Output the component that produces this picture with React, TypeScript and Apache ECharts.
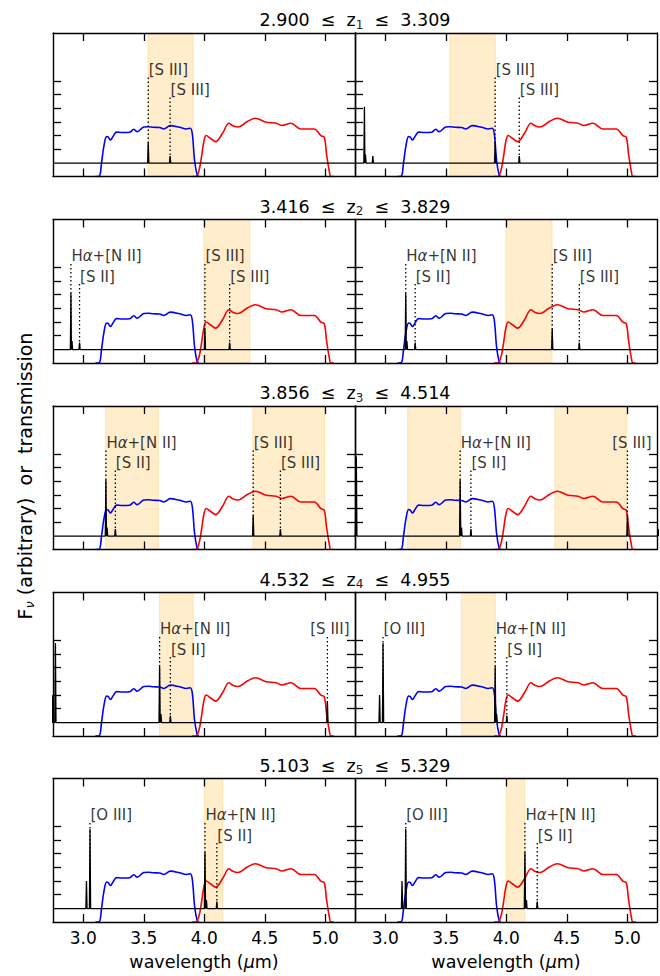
import React, { useEffect, useRef } from "react";
import * as echarts from "echarts";

// ---------- data ----------
const X_MIN = 2.75;
const X_MAX = 5.245;
const Y_MAX = 10.5;
const CONTINUUM = 0.98;

const xTicks = [3.0, 3.5, 4.0, 4.5, 5.0];
const yTicks = [2, 3, 4, 5, 6, 7];

const zLow = [2.9, 3.416, 3.856, 4.532, 5.103];
const zHigh = [3.309, 3.829, 4.514, 4.955, 5.329];

// blue filter (short wavelength) transmission curve
const blueWave = [3.1, 3.132, 3.151, 3.17, 3.192, 3.205, 3.225, 3.247, 3.275, 3.32, 3.384, 3.417, 3.445, 3.5, 3.54, 3.577, 3.632, 3.665, 3.719, 3.796, 3.851, 3.884, 3.901, 3.92, 3.939, 3.953];
const blueTrans = [0, 0.02, 1.0, 2.2, 2.92, 2.9, 2.67, 2.95, 3.25, 3.22, 3.24, 3.46, 3.28, 3.62, 3.64, 3.6, 3.58, 3.48, 3.72, 3.6, 3.48, 3.53, 3.11, 1.15, 0.17, 0];

// red filter (long wavelength) transmission curve
const redWave = [3.9, 3.928, 3.955, 3.978, 3.997, 4.016, 4.05, 4.093, 4.153, 4.203, 4.235, 4.277, 4.359, 4.422, 4.51, 4.593, 4.642, 4.716, 4.798, 4.908, 4.963, 4.991, 5.01, 5.032, 5.046, 5.07];
const redTrans = [0, 0, 0.4, 1.5, 2.6, 3.0, 2.8, 2.55, 3.2, 3.9, 3.72, 3.62, 4.04, 4.26, 3.97, 3.9, 3.73, 3.9, 3.48, 3.48, 2.99, 2.87, 1.64, 0.42, 0, 0];

// emission lines: rest wavelength (um) and peak level
const lineRest = [0.4959, 0.5007, 0.6563, 0.6583, 0.6724, 0.9069, 0.9532];
const linePeak = [3.0, 6.8, 5.1, 1.6, 1.5, 2.5, 1.5];
const lineLabel = ["", "[O III]", "H{g|α}+[N II]", "", "[S II]", "[S III]", "[S III]"];
const lineUpper = [false, true, true, false, false, true, false];

// labelled lines in each panel (row-major, left then right)
const panelLabels = [
  [5, 6], [5, 6],
  [2, 4, 5, 6], [2, 4, 5, 6],
  [2, 4, 5, 6], [2, 4, 5],
  [2, 4, 5], [1, 2, 4],
  [1, 2, 4], [1, 2, 4],
];

// shaded wavelength ranges per row
const bandStart = [[3.535], [3.996], [3.185, 4.401], [3.63], [4.0]];
const bandEnd = [[3.909], [4.378], [3.621, 4.995], [3.909], [4.153]];

// ---------- layout ----------
const GRID_LEFT = [53, 355];
const GRID_W = 302;
const GRID_TOP = [33, 219.5, 406, 592.5, 778.5];
const GRID_H = 143.5;
const FONT = "DejaVu Sans";
const UPPER_TEXT = 7.82;
const LOWER_TEXT = 6.32;
const UPPER_DOT = 7.35;
const LOWER_DOT = 5.96;
const SPIKE_HW = 0.005;

export default function App() {
  const ref = useRef<HTMLDivElement>(null);

  useEffect(() => {
    const chart = echarts.init(ref.current!, null, { renderer: "svg" });
    const grids: any[] = [];
    const xAxes: any[] = [];
    const yAxes: any[] = [];
    const series: any[] = [];
    const pxPerUm = GRID_W / (X_MAX - X_MIN);
    const axisLineStyle = { color: "#000", width: 1.4 };
    const tickStyle = { color: "#000", width: 1.3 };

    for (let r = 0; r < 5; r++) {
      for (let c = 0; c < 2; c++) {
        const g = r * 2 + c;
        const z = c === 0 ? zLow[r] : zHigh[r];
        grids.push({ left: GRID_LEFT[c], top: GRID_TOP[r], width: GRID_W, height: GRID_H, containLabel: false });
        for (const pos of ["bottom", "top"]) {
          xAxes.push({
            type: "value",
            gridIndex: g,
            position: pos,
            min: X_MIN,
            max: X_MAX,
            z: 10,
            axisLine: { show: true, onZero: false, lineStyle: axisLineStyle },
            axisTick: { show: true, inside: true, length: 8, customValues: xTicks, lineStyle: tickStyle },
            axisLabel: {
              show: r === 4 && pos === "bottom",
              customValues: xTicks,
              formatter: (v: number) => v.toFixed(1),
              margin: 7,
              fontSize: 17,
              color: "#000",
              fontFamily: FONT,
            },
            splitLine: { show: false },
          });
        }
        for (const pos of ["left", "right"]) {
          yAxes.push({
            type: "value",
            gridIndex: g,
            position: pos,
            min: 0,
            max: Y_MAX,
            z: 10,
            axisLine: { show: true, onZero: false, lineStyle: axisLineStyle },
            axisTick: { show: true, inside: true, length: 8, customValues: yTicks, lineStyle: tickStyle },
            axisLabel: { show: false },
            splitLine: { show: false },
          });
        }
        const xi = 2 * g;
        const yi = 2 * g;

        // shaded bands
        series.push({
          type: "line",
          xAxisIndex: xi,
          yAxisIndex: yi,
          data: [],
          z: 1,
          silent: true,
          markArea: {
            silent: true,
            itemStyle: { color: "rgba(255,165,0,0.2)", borderColor: "rgba(255,165,0,0.22)", borderWidth: 1 },
            data: bandStart[r].map((s, k) => [{ xAxis: s }, { xAxis: bandEnd[r][k] }]),
          },
        });

        // filter curves
        series.push({
          type: "line",
          xAxisIndex: xi,
          yAxisIndex: yi,
          data: blueWave.map((w, k) => [w, blueTrans[k]]),
          showSymbol: false,
          smooth: 0.35,
          lineStyle: { color: "#0000ff", width: 1.6 },
          z: 3,
          silent: true,
        });
        series.push({
          type: "line",
          xAxisIndex: xi,
          yAxisIndex: yi,
          data: redWave.map((w, k) => [w, redTrans[k]]),
          showSymbol: false,
          smooth: 0.35,
          lineStyle: { color: "#ff0000", width: 1.6 },
          z: 3,
          silent: true,
        });

        // spectrum
        const pts: number[][] = [[X_MIN, CONTINUUM], [X_MAX, CONTINUUM]];
        lineRest.forEach((rest, k) => {
          const w = rest * (1 + z);
          if (w > X_MIN - 0.02 && w < X_MAX + 0.02) {
            pts.push([w - SPIKE_HW, CONTINUUM], [w, linePeak[k]], [w + SPIKE_HW, CONTINUUM]);
          }
        });
        pts.sort((a, b) => a[0] - b[0]);
        series.push({
          type: "line",
          xAxisIndex: xi,
          yAxisIndex: yi,
          data: pts,
          showSymbol: false,
          lineStyle: { color: "#000", width: 1.3 },
          z: 4,
          silent: true,
        });

        // dotted markers + labels
        const labelData: any[] = [];
        panelLabels[g].forEach((k) => {
          const w = lineRest[k] * (1 + z);
          const up = lineUpper[k];
          series.push({
            type: "line",
            xAxisIndex: xi,
            yAxisIndex: yi,
            data: [[w, CONTINUUM], [w, up ? UPPER_DOT : LOWER_DOT]],
            showSymbol: false,
            lineStyle: { color: "#000", width: 1.3, type: [1.5, 2.5] },
            z: 4,
            silent: true,
          });
          const nearEdge = w > 4.9;
          labelData.push({
            value: [w, up ? UPPER_TEXT : LOWER_TEXT],
            label: nearEdge
              ? { position: "left", distance: 0, offset: [(X_MAX - w) * pxPerUm - 5, 0] }
              : { position: "right", distance: 0, offset: [0, 0] },
            name: lineLabel[k],
          });
        });
        series.push({
          type: "scatter",
          xAxisIndex: xi,
          yAxisIndex: yi,
          data: labelData,
          symbolSize: 1,
          itemStyle: { color: "rgba(0,0,0,0)" },
          z: 5,
          silent: true,
          label: {
            show: true,
            formatter: (p: any) => p.name,
            fontSize: 15,
            color: "#000",
            fontFamily: FONT,
            rich: { g: { fontSize: 15, fontStyle: "italic", fontFamily: FONT, color: "#000" } },
          },
        });
      }
    }

    const graphics: any[] = [];
    for (let r = 0; r < 5; r++) {
      graphics.push({
        type: "text",
        x: 355,
        y: GRID_TOP[r] - 13,
        style: {
          text: `${zLow[r].toFixed(3)}  ≤  z{s|${r + 1}}  ≤  ${zHigh[r].toFixed(3)}`,
          font: `17.5px "${FONT}"`,
          fill: "#000",
          textAlign: "center",
          textVerticalAlign: "middle",
          rich: { s: { fontSize: 12, fontFamily: FONT, fill: "#222", padding: [9, 0, 0, 0] } },
        },
      });
    }
    for (let c = 0; c < 2; c++) {
      graphics.push({
        type: "text",
        x: GRID_LEFT[c] + GRID_W / 2,
        y: 962,
        style: {
          text: "wavelength ({m|μ}m)",
          font: `17.5px "${FONT}"`,
          fill: "#000",
          textAlign: "center",
          textVerticalAlign: "middle",
          rich: { m: { fontSize: 17.5, fontStyle: "italic", fontFamily: FONT, fill: "#000" } },
        },
      });
    }
    graphics.push({
      type: "text",
      x: 24.5,
      y: 476,
      rotation: Math.PI / 2,
      style: {
        text: "F{s|ν} (arbitrary)  or  transmission",
        font: `19px "${FONT}"`,
        fill: "#000",
        textAlign: "center",
        textVerticalAlign: "middle",
        rich: { s: { fontSize: 13, fontStyle: "italic", fontFamily: FONT, fill: "#000", padding: [9, 0, 0, 0] } },
      },
    });

    chart.setOption({
      animation: false,
      backgroundColor: "#fff",
      grid: grids,
      xAxis: xAxes,
      yAxis: yAxes,
      series,
      graphic: graphics,
    });
    return () => chart.dispose();
  }, []);

  return <div ref={ref} style={{ position: "fixed", left: 0, top: 0, width: 660, height: 976 }} />;
}
